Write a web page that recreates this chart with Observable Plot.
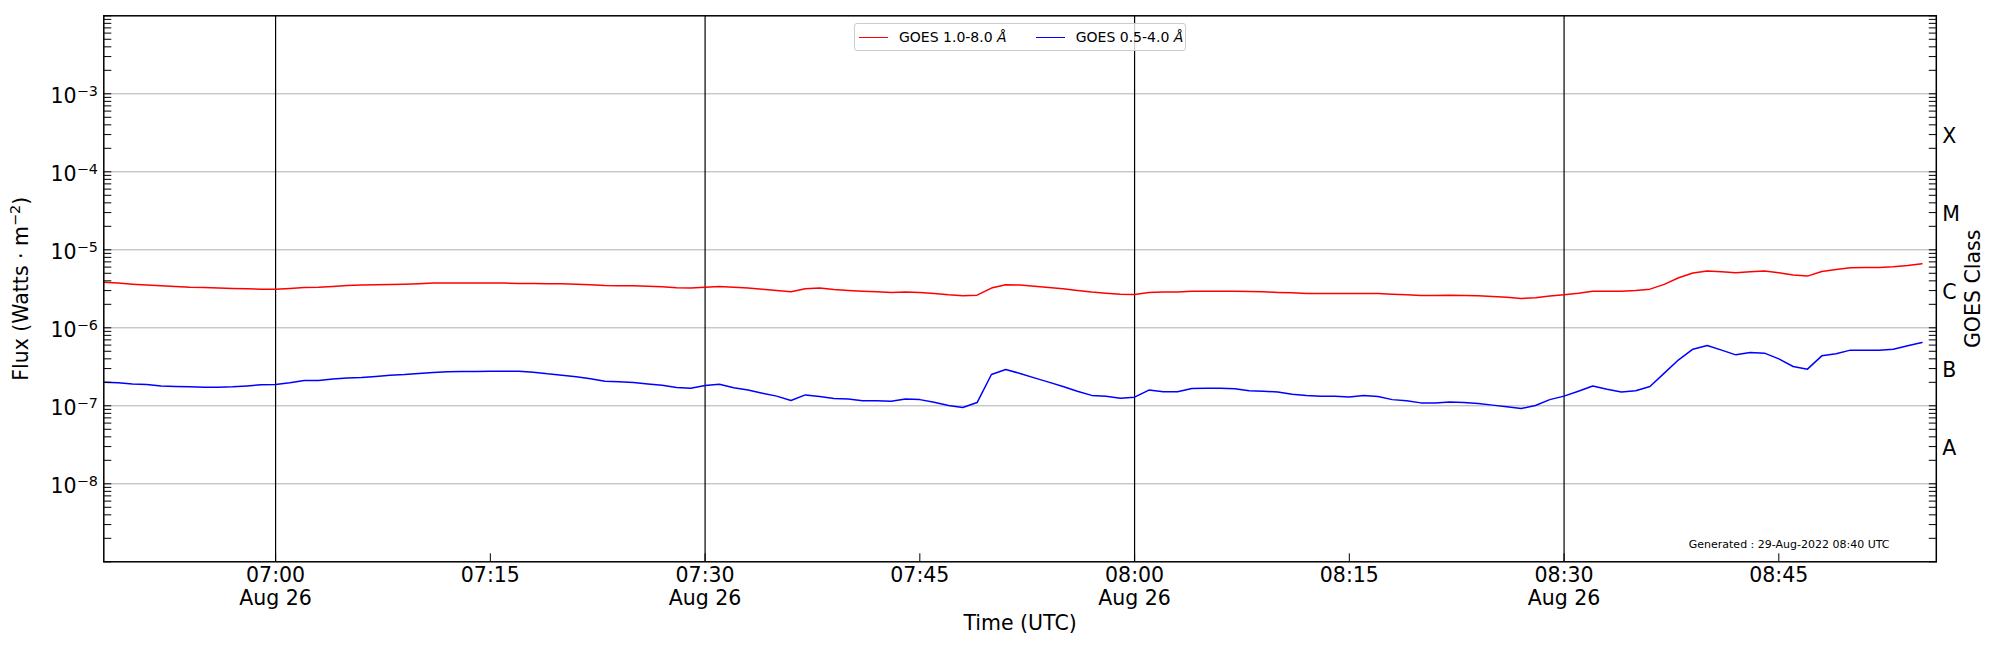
<!DOCTYPE html>
<html>
<head>
<meta charset="utf-8">
<script src="https://cdn.jsdelivr.net/npm/d3@7"></script>
<script src="https://cdn.jsdelivr.net/npm/@observablehq/plot@0.6"></script>
<style>
  body { margin: 0; background: #fff; font-family: "DejaVu Sans", sans-serif; }
  #wrap { position: relative; width: 2000px; height: 650px; }
  #legend {
    position: absolute; left: 854px; top: 23px; width: 332px; height: 28px;
    box-sizing: border-box; border: 1px solid #cccccc; border-radius: 3px;
    background: rgba(255,255,255,0.8);
    display: flex; align-items: center; padding-left: 4px;
    font: 14px "DejaVu Sans", sans-serif; color: #000;
  }
  #legend .item { display: flex; align-items: center; }
  #legend .item + .item { margin-left: 29px; }
  #legend .swatch { width: 29px; height: 0; border-top: 1.5px solid; margin-right: 11px; }
  #legend i { font-style: italic; }
</style>
</head>
<body>
<div id="wrap"><div id="legend"></div></div>
<script>
// ---------------- data ----------------
const seriesNames = ["GOES 1.0-8.0 Å", "GOES 0.5-4.0 Å"];
const seriesColors = ["#ff0000", "#0000ff"];
const startTime = "2022-08-26T06:48:00Z";   // first sample, 1-minute cadence
const cadenceMs = 60000;
const domainStart = "2022-08-26T06:48:00Z";
const domainEnd = "2022-08-26T08:56:00Z";

// GOES XRS 1.0-8.0 Å flux (W m^-2), 06:48 .. 08:55
const xrsLong = [
  3.85e-6, 3.74e-6, 3.63e-6, 3.53e-6, 3.46e-6, 3.39e-6, 3.32e-6, 3.29e-6, 3.23e-6, 3.20e-6,
  3.16e-6, 3.13e-6, 3.13e-6, 3.20e-6, 3.29e-6, 3.32e-6, 3.39e-6, 3.49e-6, 3.53e-6, 3.56e-6,
  3.60e-6, 3.63e-6, 3.67e-6, 3.74e-6, 3.74e-6, 3.74e-6, 3.74e-6, 3.74e-6, 3.74e-6, 3.70e-6,
  3.70e-6, 3.67e-6, 3.67e-6, 3.63e-6, 3.56e-6, 3.49e-6, 3.46e-6, 3.46e-6, 3.42e-6, 3.36e-6,
  3.26e-6, 3.23e-6, 3.32e-6, 3.39e-6, 3.32e-6, 3.23e-6, 3.13e-6, 3.01e-6, 2.89e-6, 3.16e-6,
  3.23e-6, 3.10e-6, 3.01e-6, 2.95e-6, 2.89e-6, 2.84e-6, 2.87e-6, 2.84e-6, 2.76e-6, 2.65e-6,
  2.57e-6, 2.62e-6, 3.23e-6, 3.56e-6, 3.53e-6, 3.42e-6, 3.29e-6, 3.16e-6, 3.01e-6, 2.87e-6,
  2.78e-6, 2.70e-6, 2.68e-6, 2.84e-6, 2.87e-6, 2.87e-6, 2.95e-6, 2.95e-6, 2.95e-6, 2.95e-6,
  2.92e-6, 2.89e-6, 2.84e-6, 2.81e-6, 2.76e-6, 2.76e-6, 2.76e-6, 2.76e-6, 2.76e-6, 2.76e-6,
  2.70e-6, 2.65e-6, 2.60e-6, 2.60e-6, 2.62e-6, 2.60e-6, 2.57e-6, 2.52e-6, 2.47e-6, 2.38e-6,
  2.43e-6, 2.55e-6, 2.65e-6, 2.78e-6, 2.95e-6, 2.95e-6, 2.95e-6, 3.01e-6, 3.13e-6, 3.60e-6,
  4.38e-6, 5.03e-6, 5.33e-6, 5.23e-6, 5.08e-6, 5.23e-6, 5.33e-6, 5.08e-6, 4.74e-6, 4.60e-6,
  5.28e-6, 5.60e-6, 5.88e-6, 5.94e-6, 5.94e-6, 6.06e-6, 6.30e-6, 6.62e-6
];

// GOES XRS 0.5-4.0 Å flux (W m^-2), 06:48 .. 08:55
const xrsShort = [
  2.01e-7, 1.97e-7, 1.91e-7, 1.88e-7, 1.79e-7, 1.77e-7, 1.75e-7, 1.73e-7, 1.73e-7, 1.75e-7,
  1.80e-7, 1.86e-7, 1.88e-7, 1.97e-7, 2.11e-7, 2.11e-7, 2.20e-7, 2.28e-7, 2.31e-7, 2.38e-7,
  2.47e-7, 2.52e-7, 2.60e-7, 2.67e-7, 2.73e-7, 2.75e-7, 2.75e-7, 2.78e-7, 2.78e-7, 2.78e-7,
  2.70e-7, 2.57e-7, 2.47e-7, 2.35e-7, 2.22e-7, 2.07e-7, 2.03e-7, 1.99e-7, 1.91e-7, 1.84e-7,
  1.72e-7, 1.68e-7, 1.82e-7, 1.89e-7, 1.70e-7, 1.59e-7, 1.45e-7, 1.33e-7, 1.17e-7, 1.38e-7,
  1.32e-7, 1.24e-7, 1.22e-7, 1.16e-7, 1.16e-7, 1.14e-7, 1.22e-7, 1.20e-7, 1.11e-7, 1.01e-7,
  0.951e-7, 1.10e-7, 2.52e-7, 2.92e-7, 2.60e-7, 2.28e-7, 2.01e-7, 1.77e-7, 1.54e-7, 1.36e-7,
  1.33e-7, 1.25e-7, 1.29e-7, 1.59e-7, 1.51e-7, 1.51e-7, 1.67e-7, 1.68e-7, 1.68e-7, 1.65e-7,
  1.56e-7, 1.54e-7, 1.50e-7, 1.41e-7, 1.36e-7, 1.33e-7, 1.33e-7, 1.30e-7, 1.36e-7, 1.32e-7,
  1.20e-7, 1.16e-7, 1.09e-7, 1.09e-7, 1.12e-7, 1.10e-7, 1.07e-7, 1.02e-7, 0.970e-7, 0.923e-7,
  1.01e-7, 1.20e-7, 1.33e-7, 1.54e-7, 1.79e-7, 1.63e-7, 1.50e-7, 1.56e-7, 1.77e-7, 2.62e-7,
  3.89e-7, 5.32e-7, 5.93e-7, 5.17e-7, 4.50e-7, 4.83e-7, 4.73e-7, 4.00e-7, 3.19e-7, 2.95e-7,
  4.37e-7, 4.64e-7, 5.17e-7, 5.17e-7, 5.17e-7, 5.32e-7, 5.88e-7, 6.48e-7
];

const xTickTimes = ["07:00", "07:15", "07:30", "07:45", "08:00", "08:15", "08:30", "08:45"];
const xTickLabels = ["07:00\nAug 26", "07:15", "07:30\nAug 26", "07:45", "08:00\nAug 26", "08:15", "08:30\nAug 26", "08:45"];
const markerTimes = ["07:00", "07:30", "08:00", "08:30"];

const yGridValues = [1e-8, 1e-7, 1e-6, 1e-5, 1e-4, 1e-3];
const yTickLabels = ["10^{−8}", "10^{−7}", "10^{−6}", "10^{−5}", "10^{−4}", "10^{−3}"];
const yTickDecades = [1e-9, 1e-8, 1e-7, 1e-6, 1e-5, 1e-4, 1e-3, 1e-2];

const classLabels = ["A", "B", "C", "M", "X"];
const classCenters = [3.162e-8, 3.162e-7, 3.162e-6, 3.162e-5, 3.162e-4];

const xLabel = "Time (UTC)";
const yLabel = "Flux (Watts · m^{−2})";
const y2Label = "GOES Class";
const generatedText = "Generated : 29-Aug-2022 08:40 UTC";

// ---------------- build ----------------
const t0 = new Date(startTime);
const toRows = (vals, name) => vals.map((v, i) => ({time: new Date(+t0 + i * cadenceMs), flux: v, series: name}));
const rowsLong = toRows(xrsLong, seriesNames[0]);
const rowsShort = toRows(xrsShort, seriesNames[1]);
const hm = (s) => new Date(`2022-08-26T${s}:00Z`);
const xTicks = xTickTimes.map(hm);
const markers = markerTimes.map(hm);

// log minor ticks (2..9 x each decade)
const minorTicks = [];
for (const d of yTickDecades.slice(0, -1)) for (let k = 2; k <= 9; k++) minorTicks.push(k * d);
const allYTicks = yTickDecades.concat(minorTicks);

const lookup = (keys, labels) => (d) => {
  const i = keys.findIndex(k => Math.abs(Math.log10(k) - Math.log10(d)) < 1e-6);
  return i < 0 ? "" : labels[i];
};
const xLabelOf = (d) => xTickLabels[xTicks.findIndex(t => +t === +d)] ?? "";
const classRows = classLabels.map((c, i) => ({label: c, center: classCenters[i]}));

const FS = 20.5;

const chart = Plot.plot({
  width: 2000,
  height: 650,
  marginLeft: 103.3,
  marginRight: 64.2,
  marginTop: 15.3,
  marginBottom: 88.7,
  style: {fontSize: FS + "px", fontFamily: "DejaVu Sans, sans-serif", color: "black", background: "white"},
  x: {type: "utc", domain: [new Date(domainStart), new Date(domainEnd)]},
  y: {type: "log", domain: [1e-9, 1e-2]},
  marks: [
    Plot.ruleY(yGridValues, {stroke: "#b0b0b0", strokeWidth: 1}),
    Plot.ruleX(markers, {stroke: "black", strokeWidth: 1.2}),
    Plot.line(rowsLong, {x: "time", y: "flux", stroke: seriesColors[0], strokeWidth: 1.5}),
    Plot.line(rowsShort, {x: "time", y: "flux", stroke: seriesColors[1], strokeWidth: 1.5}),
    Plot.frame({stroke: "black", strokeWidth: 1.5}),
    // inward ticks
    Plot.axisX(xTicks, {anchor: "bottom", tickSize: -8, tickFormat: () => "", label: null, stroke: "black"}),
    Plot.axisY(allYTicks, {anchor: "left", tickSize: -8, tickFormat: () => "", label: null, stroke: "black"}),
    Plot.axisY(allYTicks, {anchor: "right", tickSize: -8, tickFormat: () => "", label: null, stroke: "black"}),
    // tick labels
    Plot.axisX(xTicks, {anchor: "bottom", tickSize: 0, tickPadding: 4.4, lineHeight: 1.1,
      tickFormat: xLabelOf, label: null, fill: "black"}),
    Plot.axisY(yGridValues, {anchor: "left", tickSize: 0, tickPadding: 6, dy: 2.7,
      tickFormat: lookup(yGridValues, yTickLabels), label: null, fill: "black"}),
    // GOES class labels on the right
    Plot.text(classRows, {y: "center", text: "label", frameAnchor: "right", textAnchor: "start", lineAnchor: "middle",
      dx: 6, dy: 3.8, fontSize: FS, fill: "black"}),
    // axis titles
    Plot.text([xLabel], {text: d => d, frameAnchor: "bottom", textAnchor: "middle", lineAnchor: "middle", dy: 62, fontSize: FS, fill: "black"}),
    Plot.text([yLabel], {text: d => d, frameAnchor: "left", textAnchor: "middle", lineAnchor: "middle", dx: -82.7, rotate: -90, fontSize: FS, fill: "black"}),
    Plot.text([y2Label], {text: d => d, frameAnchor: "right", textAnchor: "middle", lineAnchor: "middle", dx: 37.5, rotate: -90, fontSize: FS, fill: "black"}),
    Plot.text([generatedText], {text: d => d, frameAnchor: "bottom-right", textAnchor: "end", lineAnchor: "middle", dx: -46.8, dy: -17, fontSize: 11, fill: "black"})
  ]
});

const wrap = document.getElementById("wrap");
wrap.insertBefore(chart, wrap.firstChild);

// superscripts written as ^{...}
const NS = "http://www.w3.org/2000/svg";
chart.querySelectorAll("text").forEach(t => {
  if (t.querySelector("tspan")) return;
  const s = t.textContent;
  if (!s.includes("^{")) return;
  const fs = parseFloat(getComputedStyle(t).fontSize) || FS;
  const raise = 0.36 * fs;
  const parts = s.split(/\^\{([^}]*)\}/);
  t.textContent = "";
  let raised = false;
  parts.forEach((p, i) => {
    const isSup = i % 2 === 1;
    if (p === "") { return; }
    const ts = document.createElementNS(NS, "tspan");
    ts.textContent = p;
    if (isSup) { ts.setAttribute("font-size", (fs * 0.7).toFixed(2)); ts.setAttribute("dy", (-raise).toFixed(2)); raised = true; }
    else if (raised) { ts.setAttribute("dy", raise.toFixed(2)); raised = false; }
    t.appendChild(ts);
  });
});

// legend (inside the axes, top centre)
const legend = document.getElementById("legend");
seriesNames.forEach((name, i) => {
  const item = document.createElement("div");
  item.className = "item";
  const sw = document.createElement("span");
  sw.className = "swatch";
  sw.style.borderTopColor = seriesColors[i];
  const lab = document.createElement("span");
  const base = name.replace(/\s*Å$/, "");
  lab.appendChild(document.createTextNode(base + " "));
  const it = document.createElement("i");
  it.textContent = "Å";
  lab.appendChild(it);
  item.appendChild(sw);
  item.appendChild(lab);
  legend.appendChild(item);
});
</script>
</body>
</html>
